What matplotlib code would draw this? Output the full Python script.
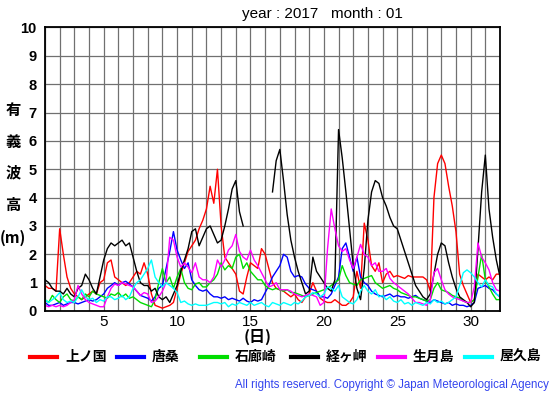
import numpy as np
import matplotlib
matplotlib.use("Agg")
import matplotlib.pyplot as plt
from matplotlib.lines import Line2D

# significant wave height (m), 6-hourly from Jan 1 00h to Feb 1 00h
stations = ["上ノ国", "唐桑", "石廊崎", "経ヶ岬", "生月島", "屋久島"]
colors = ["#ff0000", "#0000ff", "#00dd00", "#000000", "#ff00ff", "#00ffff"]
nan = np.nan

kaminokuni = [
    0.9, 0.8, 0.8, 0.7,  2.9, 2.0, 1.2, 0.8,  0.6, 0.5, 0.4, 0.5,  0.6, 0.7, 0.6, 1.0,
    1.1, 1.7, 1.8, 1.2,  1.1, 1.0, 0.9, 1.0,  1.2, 1.4, 1.3, 1.7,  1.3, 0.6, 0.2, 0.15,
    0.1, 0.15, 0.2, 0.3,  0.8, 1.3, 1.7, 2.1,  2.3, 2.5, 2.9, 3.2,  3.6, 4.4, 3.8, 5.0,
    3.0, 1.9, 1.7, 1.5,  1.3, 0.7, 0.6, 1.2,  1.7, 1.6, 1.5, 2.2,  2.0, 1.5, 1.0, 0.8,
    0.75, 0.7, 0.6, 0.5,  0.6, 0.4, 0.3, 0.5,  0.6, 1.0, 0.7, 0.45,  0.35, 0.3, 0.3, 0.4,
    0.3, 0.2, 0.2, 0.3,  0.5, 1.4, 0.8, 3.1,  2.5, 1.6, 1.4, 1.7,  1.0, 1.3, 1.4, 1.2,
    1.25, 1.2, 1.15, 1.25,  1.2, 1.2, 1.2, 1.2,  1.1, 0.7, 4.0, 5.2,  5.5, 5.2, 4.4, 3.7,
    2.8, 1.3, 0.9, 0.6,  0.3, 0.4, 1.3, 1.2,  1.1, 1.2, 1.1, 1.3,  1.3,
]
karakuwa = [
    0.3, 0.2, 0.2, 0.25,  0.3, 0.2, 0.25, 0.3,  0.3, 0.25, 0.3, 0.35,  0.4, 0.35, 0.4, 0.5,
    0.6, 0.8, 0.9, 1.0,  0.9, 1.0, 1.05, 0.95,  0.85, 0.7, 0.55, 0.5,  0.45, 0.35, 0.5, 0.8,
    0.9, 1.5, 2.1, 2.8,  2.15, 1.8, 1.5, 1.7,  1.1, 0.9, 0.75, 0.7,  0.75, 0.6, 0.5, 0.5,
    0.45, 0.5, 0.4, 0.45,  0.4, 0.35, 0.45, 0.35,  0.3, 0.4, 0.35, 0.4,  0.65, 0.9, 1.2, 1.4,
    1.6, 2.0, 1.9, 1.4,  1.2, 1.25, 1.2, 0.95,  0.8, 0.75, 0.7, 0.5,  0.5, 0.45, 0.6, 0.9,
    1.2, 2.2, 2.4, 1.9,  1.4, 1.9, 1.2, 1.0,  0.9, 0.7, 0.6, 0.55,  0.5, 0.55, 0.6, 0.5,
    0.55, 0.5, 0.5, 0.45,  0.5, 0.55, 0.45, 0.4,  0.35, 0.3, 0.4, 0.35,  0.3, 0.25, 0.3, 0.2,
    0.25, 0.2, 0.2, 0.15,  0.2, 0.3, 0.8, 0.85,  0.9, 0.8, 0.75, 0.6,  0.5,
]
irozaki = [
    0.4, 0.3, 0.55, 0.4,  0.3, 0.5, 0.6, 0.4,  0.35, 0.5, 0.4, 0.6,  0.5, 0.7, 0.6, 0.55,
    0.5, 0.45, 0.6, 0.55,  0.65, 0.5, 0.6, 0.45,  0.5, 0.4, 0.3, 0.25,  0.2, 0.15, 0.4, 1.0,
    1.5, 1.0, 1.2, 0.8,  1.2, 1.5, 1.0, 0.8,  0.75, 0.95, 1.0, 0.85,  0.85, 1.0, 1.1, 1.3,
    1.7, 1.45, 1.6, 1.5,  1.9, 2.0, 1.5, 1.7,  1.4, 1.25, 1.1, 1.1,  0.9, 0.8, 0.75, 0.8,
    0.75, 0.7, 0.75, 0.65,  0.65, 0.6, 0.55, 0.5,  0.55, 0.6, 0.65, 0.7,  0.75, 0.8, 0.9, 1.0,
    1.1, 1.6, 1.25, 1.0,  0.95, 0.9, 1.1, 1.15,  1.2, 1.25, 1.0, 0.9,  0.8, 0.85, 0.9, 0.8,
    0.75, 0.65, 0.6, 0.55,  0.5, 0.5, 0.45, 0.4,  0.35, 0.4, 0.8, 1.0,  0.75, 0.7, 0.65, 0.55,
    0.5, 0.45, 0.35, 0.3,  0.3, 0.4, 1.2, 2.0,  1.1, 0.85, 0.6, 0.4,  0.4,
]
kyogamisaki = [
    1.1, 1.0, 0.8, 0.7,  0.7, 0.6, 0.8, 0.6,  0.5, 0.8, 0.9, 1.3,  1.1, 0.8, 0.6, 1.2,
    1.8, 2.2, 2.4, 2.3,  2.4, 2.5, 2.3, 2.4,  1.9, 1.4, 1.0, 0.9,  0.9, 0.7, 0.8, 0.5,
    0.4, 0.5, 0.3, 0.6,  0.9, 1.4, 1.8, 2.2,  2.8, 2.9, 2.3, 2.6,  2.9, 3.0, 2.7, 2.4,
    2.5, 3.0, 3.6, 4.3,  4.6, 3.5, 3.0, nan,  nan, nan, nan, nan,  nan, nan, 4.2, 5.3,
    5.7, 4.6, 3.4, 2.5,  1.9, 1.4, 1.0, 0.6,  0.7, 1.9, 1.4, 1.2,  1.0, 0.8, 0.7, 1.1,
    6.4, 5.4, 4.2, 2.9,  1.6, 0.8, 0.4, 1.5,  3.2, 4.2, 4.6, 4.5,  4.0, 3.7, 3.3, 3.0,
    2.9, 2.5, 2.1, 1.7,  1.3, 0.9, 0.7, 0.5,  0.4, 0.6, 1.3, 2.0,  2.4, 2.3, 1.7, 1.2,
    0.8, 0.5, 0.4, 0.3,  0.15, 0.3, 2.2, 4.2,  5.5, 3.6, 2.6, 1.8,  1.2,
]
ikitsukishima = [
    0.2, 0.15, 0.2, 0.15,  0.2, 0.15, 0.2, 0.3,  0.4, 0.9, 0.6, 0.4,  0.3, 0.25, 0.2, 0.15,
    0.15, 0.5, 0.8, 0.95,  0.9, 1.0, 0.95, 0.9,  0.85, 0.7, 0.55, 0.65,  0.6, 0.3, 0.35, 0.5,
    0.7, 1.0, 2.6, 2.5,  1.9, 1.55, 1.7, 1.55,  1.35, 1.7, 1.2, 1.1,  1.1, 1.0, 1.2, 1.8,
    1.55, 1.8, 2.15, 2.3,  2.7, 2.1, 1.9, 1.8,  2.15, 1.8, 1.6, 1.35,  1.1, 0.85, 0.9, 1.0,
    0.75, 0.75, 0.75, 0.7,  0.6, 0.55, 0.5, 0.55,  0.6, 0.55, 0.5, 0.2,  0.3, 2.2, 3.6, 2.9,
    2.3, 2.1, 2.2, 1.8,  1.5, 1.9, 2.35, 2.0,  1.9, 1.6, 1.7, 1.4,  1.4, 1.5, 1.15, 1.0,
    0.9, 0.8, 0.7, 0.6,  0.45, 0.3, 0.3, 0.25,  0.2, 0.4, 1.35, 1.5,  1.1, 0.75, 0.6, 0.5,
    0.45, 0.4, 0.35, 0.3,  0.3, 0.85, 2.4, 1.9,  1.7, 1.45, 1.0, 0.75,  0.7,
]
yakushima = [
    0.4, 0.3, 0.4, 0.5,  0.65, 0.4, 0.3, 0.35,  0.3, 0.5, 0.75, 0.5,  0.4, 0.45, 0.3, 0.4,
    0.35, 0.5, 0.5, 0.4,  0.45, 0.55, 0.4, 0.5,  0.8, 1.0, 1.1, 1.3,  1.5, 1.8, 1.2, 1.0,
    0.85, 1.0, 0.9, 0.8,  0.65, 0.3, 0.35, 0.25,  0.2, 0.25, 0.2, 0.2,  0.2, 0.25, 0.3, 0.3,
    0.25, 0.3, 0.15, 0.25,  0.2, 0.3, 0.25, 0.2,  0.3, 0.2, 0.25, 0.3,  0.2, 0.15, 0.3, 0.25,
    0.2, 0.3, 0.25, 0.2,  0.3, 0.25, 0.35, 0.5,  0.55, 0.65, 0.6, 0.5,  0.6, 0.85, 0.8, 0.7,
    0.9, 0.5, 0.4, 0.3,  0.25, 0.4, 0.7, 0.9,  0.7, 0.6, 0.75, 0.5,  0.55, 0.4, 0.5, 0.35,
    0.3, 0.4, 0.25, 0.3,  0.2, 0.3, 0.25, 0.2,  0.3, 0.25, 0.4, 0.3,  0.35, 0.25, 0.3, 0.4,
    0.5, 0.9, 1.35, 1.45,  1.35, 1.2, 1.0, 0.85,  1.1, 0.9, 0.85, 0.6,  0.5,
]
series = [kaminokuni, karakuwa, irozaki, kyogamisaki, ikitsukishima, yakushima]

JP = ["Noto Sans CJK JP", "DejaVu Sans"]
plt.rcParams["font.family"] = ["Liberation Sans", "DejaVu Sans"]

W, H = 555, 395
fig = plt.figure(figsize=(W / 100, H / 100), dpi=100)
ax = fig.add_axes([45 / W, (H - 311) / H, 455 / W, 283.5 / H])

for vals, col in zip(series, colors):
    days = 1 + np.arange(len(vals)) / 4
    ax.plot(days, vals, color=col, lw=1.0)

ax.set_xlim(1, 32)
ax.set_ylim(0, 10)
ax.set_xticks(np.arange(1, 33), minor=True)
ax.set_xticks([5, 10, 15, 20, 25, 30])
ax.set_yticks(range(0, 11))
ax.grid(True, which="both", color="#707070", lw=0.9)
ax.set_axisbelow(True)
ax.tick_params(length=0, which="both")
ax.tick_params(axis="x", labelsize=11, pad=3)
ax.tick_params(axis="y", labelsize=10.5, pad=6)
for lab in ax.get_yticklabels():
    lab.set_fontweight("bold")
for sp in ax.spines.values():
    sp.set_linewidth(1.3)

fig.text(242 / W, 1 - 14 / H, "year : 2017   month : 01", fontsize=11, va="center")

for ch, y in zip(["有", "義", "波", "高", "(m)"], [110, 142, 172, 205, 238]):
    fig.text(13 / W, 1 - y / H, ch, family=JP, fontsize=11, fontweight="bold",
             ha="center", va="center")

fig.text(258 / W, 1 - 337 / H, "(日)", family=JP, fontsize=11.5, fontweight="bold",
         ha="center", va="center")

line_x = [30, 117, 200, 291, 378, 465]
for name, col, x0 in zip(stations, colors, line_x):
    fig.add_artist(Line2D([x0 / W, (x0 + 27) / W], [1 - 357 / H] * 2, color=col, lw=3))
    fig.text((x0 + 35) / W, 1 - 357 / H, name, family=JP, fontsize=10, fontweight="bold",
             va="center")

fig.text(549 / W, 1 - 385 / H,
         "All rights reserved. Copyright © Japan Meteorological Agency",
         fontsize=8.3, color="#3344ee", ha="right", va="center")

fig.savefig("out.png", dpi=100)
